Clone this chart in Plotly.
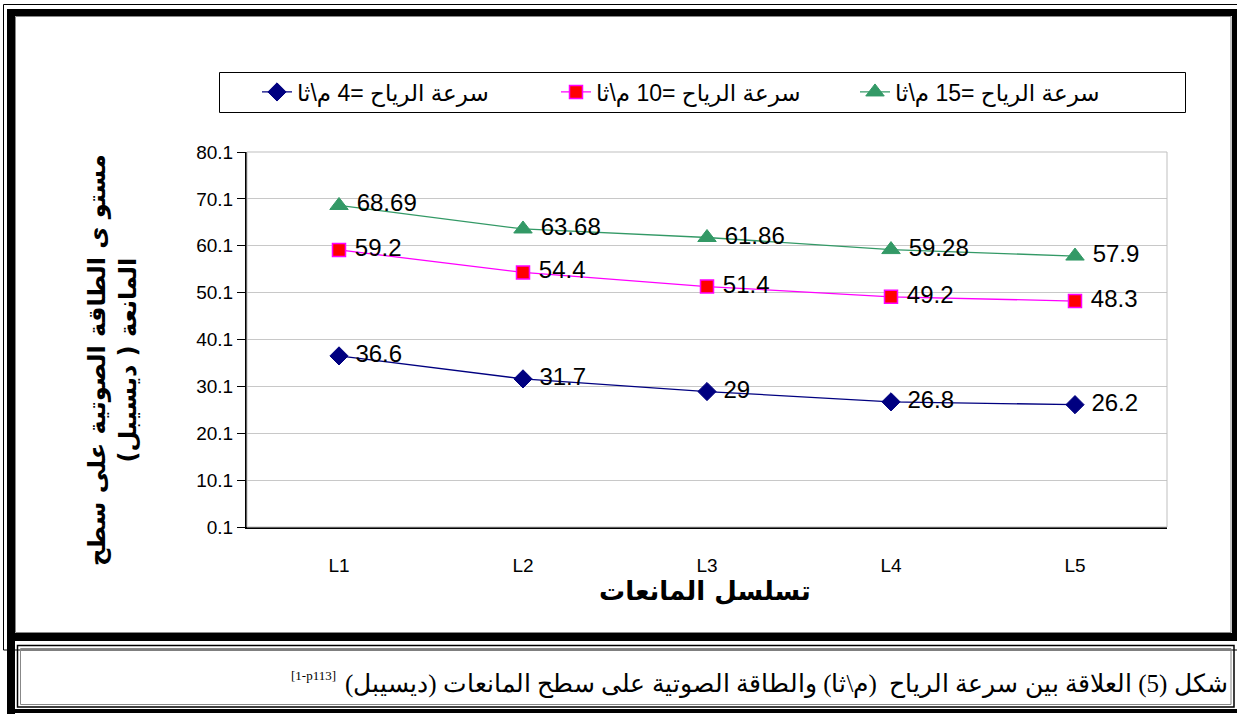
import plotly.graph_objects as go

categories = ["L1", "L2", "L3", "L4", "L5"]
wind4 = [36.6, 31.7, 29, 26.8, 26.2]
wind10 = [59.2, 54.4, 51.4, 49.2, 48.3]
wind15 = [68.69, 63.68, 61.86, 59.28, 57.9]
series_names = ["سرعة الرياح =4 م\\ثا", "سرعة الرياح =10 م\\ثا", "سرعة الرياح =15 م\\ثا"]
y_ticks = [0.1, 10.1, 20.1, 30.1, 40.1, 50.1, 60.1, 70.1, 80.1]
y_title = "مستو ى الطاقة الصوتية على سطح<br>المانعة ( ديسيبل)"
x_title = "تسلسل المانعات"
caption = "شكل (5) العلاقة بين سرعة الرياح  (م\\ثا) والطاقة الصوتية على سطح المانعات (ديسيبل)"
caption_ref = "[1-p113]"

W, H = 1237, 714
L, R, T, B = 247, 1167, 152, 527


def px(x):
    return (x - L) / (R - L)


def py(y):
    return (B - y) / (B - T)


fig = go.Figure()
styles = [
    dict(line=dict(color="#000080", width=1.3),
         marker=dict(symbol="diamond", size=14, color="#000080", line=dict(color="#000080", width=1))),
    dict(line=dict(color="#FF00FF", width=1.3),
         marker=dict(symbol="square", size=13, color="#FF0000", line=dict(color="#FF00FF", width=1.5))),
    dict(line=dict(color="#339966", width=1.3),
         marker=dict(symbol="triangle-up", size=16, color="#339966", line=dict(color="#339966", width=1))),
]
for name, vals, st in zip(series_names, [wind4, wind10, wind15], styles):
    fig.add_trace(go.Scatter(
        x=categories, y=vals, name=name, mode="lines+markers+text",
        text=[f"{v:g}" for v in vals],
        texttemplate="\u00a0%{text}",
        textposition="middle right",
        textfont=dict(family="Liberation Sans, Arial, sans-serif", size=24, color="black"),
        cliponaxis=False,
        **st,
    ))

shapes = []


def rect(x0, y0, x1, y1, color="black", width=1, fill=None):
    d = dict(type="rect", xref="paper", yref="paper",
             x0=px(x0), x1=px(x1), y0=py(y0), y1=py(y1),
             line=dict(color=color, width=width))
    if fill:
        d["fillcolor"] = fill
        d["line"] = dict(width=0)
    shapes.append(d)


# plot area border (grey)
rect(L, T, R, B, color="#BFBFBF", width=1)
# outer frame thin line
rect(3.5, 4.5, 1245, 650, color="black", width=1)
# thick frame
rect(7, 9, 15, 714, fill="black")
rect(7, 9, 1237, 16, fill="black")
rect(1232, 9, 1237, 641, fill="black")
rect(7, 633, 1237, 641, fill="black")
rect(15, 709, 1237, 713, fill="black")
# inner grey line
rect(15.5, 16.5, 1231, 632.5, color="#888888", width=1)
# caption box
rect(17.5, 645.5, 1234, 707, color="black", width=1.5)
rect(20.5, 648.5, 1231, 704.5, color="#888888", width=1)
# legend box
rect(219.5, 72.5, 1185.5, 112.5, color="black", width=1)

annotations = [
    dict(text="<b>" + y_title + "</b>", x=px(112), y=py(360), xref="paper", yref="paper",
         textangle=-90, showarrow=False, xanchor="center", yanchor="middle",
         font=dict(family="DejaVu Sans, sans-serif", size=24, color="black"),
         ),
    dict(text="<b>" + x_title + "</b>", x=px(705), y=py(591), xref="paper", yref="paper",
         showarrow=False, xanchor="center", yanchor="middle",
         font=dict(family="DejaVu Sans, sans-serif", size=26, color="black")),
    dict(text=caption, x=px(1230), y=py(684), xref="paper", yref="paper",
         showarrow=False, xanchor="right", yanchor="middle",
         font=dict(family="Liberation Serif, DejaVu Serif, serif", size=25, color="black")),
    dict(text=caption_ref, x=px(338), y=py(675), xref="paper", yref="paper",
         showarrow=False, xanchor="right", yanchor="middle",
         font=dict(family="Liberation Serif, DejaVu Serif, serif", size=13, color="black")),
]

fig.update_layout(
    width=W, height=H,
    margin=dict(l=L, r=W - R, t=T, b=H - B, pad=0),
    paper_bgcolor="white", plot_bgcolor="white",
    font=dict(family="Liberation Sans, Arial, DejaVu Sans, sans-serif", color="black"),
    showlegend=True,
    legend=dict(orientation="h", x=px(257), y=py(92), xanchor="left", yanchor="middle",
                bgcolor="rgba(0,0,0,0)", borderwidth=0,
                font=dict(family="Liberation Sans, Arial, DejaVu Sans, sans-serif", size=23),
                entrywidth=254, entrywidthmode="pixels", itemclick=False),
    xaxis=dict(type="category", range=[-0.5, 4.5], showline=True, linecolor="black", linewidth=2,
               ticks="", showgrid=False, ticklabelstandoff=20,
               tickfont=dict(size=19, family="Liberation Sans, Arial, sans-serif")),
    yaxis=dict(range=[0.1, 80.1], tickmode="array", tickvals=y_ticks,
               ticktext=[f"{v:.1f}" for v in y_ticks],
               showline=True, linecolor="black", linewidth=2,
               ticks="outside", ticklen=8, tickwidth=1, tickcolor="black",
               showgrid=True, gridcolor="#C8C8C8", gridwidth=1.3, zeroline=False,
               tickfont=dict(size=19, family="Liberation Sans, Arial, sans-serif")),
    shapes=shapes,
    annotations=annotations,
)

fig.write_html("out.html", config={"displayModeBar": False},
               post_script="document.body.style.margin='0px';document.body.style.overflow='hidden';")
